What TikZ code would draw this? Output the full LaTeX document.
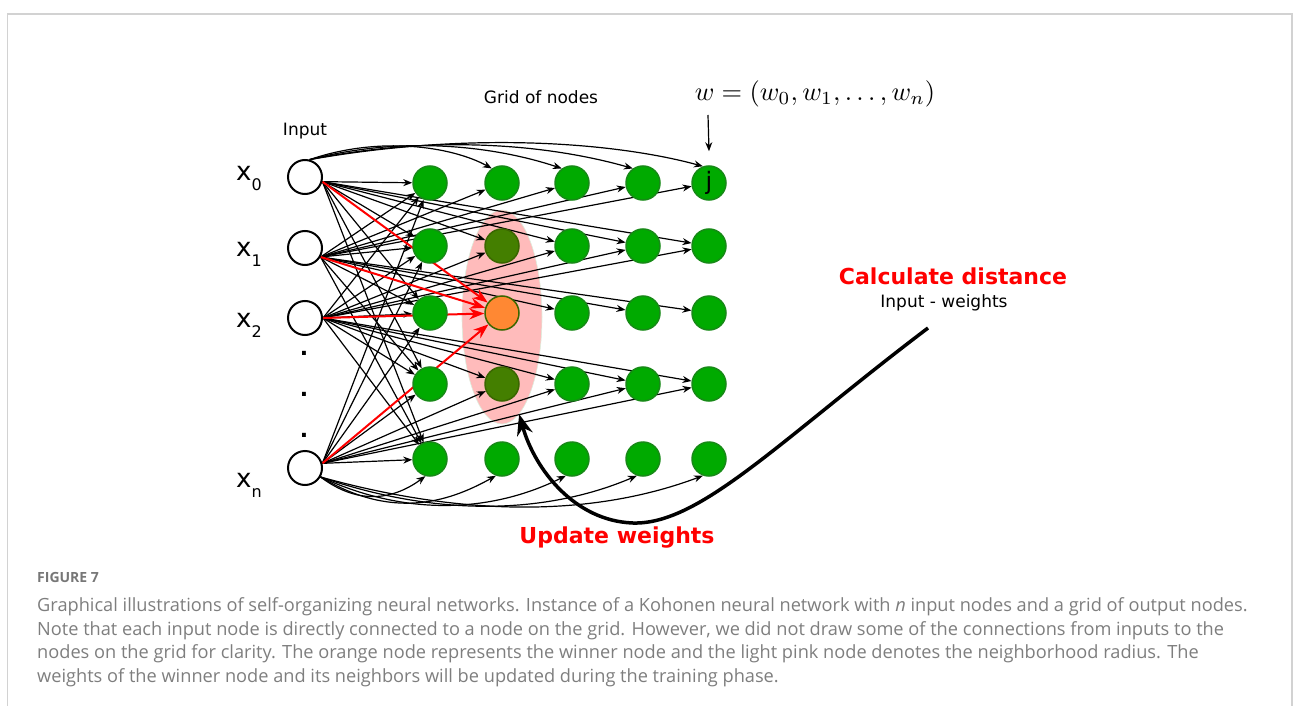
\documentclass[tikz,border=0pt]{standalone}
\usepackage[no-math]{fontspec}
\setmainfont{DejaVu Sans}
\newfontfamily\capfont{Open Sans}
\usetikzlibrary{arrows.meta,shapes.geometric}
\pgfdeclarelayer{bg}
\pgfdeclarelayer{edges}
\pgfsetlayers{bg,edges,main}
\definecolor{gfill}{HTML}{00AA00}
\definecolor{gdraw}{HTML}{178A17}
\definecolor{dfill}{HTML}{447F00}
\definecolor{ddraw}{HTML}{3A6600}
\definecolor{ofill}{HTML}{FF8833}
\definecolor{pinkfill}{HTML}{FFBBBB}
\definecolor{pinkdraw}{HTML}{DDEEDD}
\definecolor{capgray}{HTML}{7E7E7E}
\definecolor{figgray}{HTML}{777777}
\definecolor{framegray}{HTML}{D2D2D2}
\definecolor{hot}{HTML}{FF0000}
\newcommand{\xsub}[1]{x\raisebox{-10pt}{\fontsize{16}{16}\selectfont #1}}
\begin{document}
\begin{tikzpicture}[x=1pt,y=-1pt,
  inp/.style={circle,draw=black,fill=white,line width=2pt,minimum size=34pt,inner sep=0pt},
  grn/.style={circle,draw=gdraw,fill=gfill,line width=1.5pt,minimum size=34pt,inner sep=0pt},
  nbr/.style={draw=ddraw,fill=dfill},
  win/.style={draw=ddraw,fill=ofill},
  sty-1-1/.style={nbr},
  sty-1-3/.style={nbr},
  sty-1-2/.style={win},
  arr/.style={line width=1.2pt,-{Stealth[length=9pt,width=7pt]}},
  redarr/.style={hot,line width=2pt,-{Stealth[length=15pt,width=11pt]}},
  bigarr/.style={line width=3.5pt,-{Stealth[length=21pt,width=16pt]}},
  lbl/.style={font=\fontsize{17}{17}\selectfont,inner sep=0pt},
  red lbl/.style={font=\fontsize{22}{22}\selectfont\bfseries,text=hot,inner sep=0pt},
  xlbl/.style={font=\fontsize{26}{26}\selectfont,inner sep=0pt,anchor=base west},
  caption/.style={font=\capfont\fontsize{18.2}{18.2}\selectfont,text=capgray,inner sep=0pt,anchor=base west}
]
\useasboundingbox (0,0) rectangle (1293,706);
\draw[framegray,line width=1.5pt] (7.5,720) -- (7.5,14) -- (1292,14) -- (1292,720);

% neighbourhood
\begin{pgfonlayer}{bg}
\node[ellipse,fill=pinkfill,draw=pinkdraw,line width=0.6pt,minimum width=80pt,minimum height=214pt,inner sep=0pt] (hood) at (502,317) {};
\end{pgfonlayer}

% input nodes
\node[inp] (I0) at (305,177) {};
\node[inp] (I1) at (305,248) {};
\node[inp] (I2) at (305,318) {};
\node[inp] (In) at (305,468) {};

% grid
\foreach \c/\x in {0/430,1/502,2/572,3/643,4/709}
  \foreach \r/\y in {0/183,1/246,2/313,3/384,4/459}
    \node[grn,sty-\c-\r/.try] (g-\c-\r) at (\x,\y) {};
\node[font=\fontsize{24}{24}\selectfont,inner sep=0pt] (jlab) at (g-4-0) {j};

% labels
\node[xlbl] (lx0) at (236,180) {\xsub{0}};
\node[xlbl] (lx1) at (236,256) {\xsub{1}};
\node[xlbl] (lx2) at (236,327) {\xsub{2}};
\node[xlbl] (lxn) at (236,487) {\xsub{n}};
\node[font=\fontsize{22}{22}\selectfont\bfseries,inner sep=0pt] (d1) at (304,353) {.};
\node[font=\fontsize{22}{22}\selectfont\bfseries,inner sep=0pt] (d2) at (304,394) {.};
\node[font=\fontsize{22}{22}\selectfont\bfseries,inner sep=0pt] (d3) at (304,435) {.};
\node[lbl] (tin) at (305,131) {Input};
\node[lbl] (tgrid) at (541,97) {Grid of nodes};
\node[inner sep=0pt] (wform) at (815,94) {\scalebox{2.64}{$w=(w_0,w_1,\dots,w_n)$}};
\coordinate (wa) at (708,115);
\draw[arr] (wa) -- ([yshift=14pt]g-4-0.north);
\node[red lbl] (tcalc) at (953,276) {Calculate distance};
\node[lbl] (tiw) at (944,303) {Input - weights};
\node[red lbl] (tupd) at (617,538) {Update weights};

% connections
\begin{pgfonlayer}{edges}
\foreach \r in {0,...,4} {
  \draw[arr] (I0.-15) -- (g-0-\r);
  \draw[arr] (I1.-30) -- (g-0-\r);
  \draw[arr] (I2.0) -- (g-0-\r);
  \draw[arr] (In.15) -- (g-0-\r);
}
\foreach \c in {1,...,4} {
  \draw[arr] (I0.-15) -- (g-\c-1);
  \draw[arr] (I1.-30) -- (g-\c-0);
  \draw[arr] (I2.0) -- (g-\c-1);
  \draw[arr] (I2.0) -- (g-\c-3);
  \draw[arr] (In.15) -- (g-\c-3);
}
\foreach \c in {2,3,4} {
  \draw[arr] (I1.-30) -- (g-\c-2);
}
% curves over the top
\draw[arr] (I0.75) .. controls +(70,-24) and +(-40,-22) .. (g-1-0.125);
\draw[arr] (I0.75) .. controls +(100,-26) and +(-60,-20) .. (g-2-0.125);
\draw[arr] (I0.75) .. controls +(140,-28) and +(-70,-20) .. (g-3-0.125);
\draw[arr] (I0.75) .. controls +(170,-30) and +(-80,-22) .. (g-4-0.110);
% curves underneath
\draw[arr] (In.-30) .. controls +(40,30) and +(-30,22) .. (g-0-4.-105);
\draw[arr] (In.-30) .. controls +(70,42) and +(-50,28) .. (g-1-4.-110);
\draw[arr] (In.-30) .. controls +(100,46) and +(-60,30) .. (g-2-4.-110);
\draw[arr] (In.-30) .. controls +(140,48) and +(-70,30) .. (g-3-4.-110);
\draw[arr] (In.-30) .. controls +(180,50) and +(-80,30) .. (g-4-4.-110);
% winner
\draw[redarr] (I0.-15) -- (g-1-2);
\draw[redarr] (I1.-30) -- (g-1-2);
\draw[redarr] (I2.0) -- (g-1-2);
\draw[redarr] (In.15) -- (g-1-2);
\end{pgfonlayer}

% update loop
\coordinate (cstart) at (928,328);
\draw[bigarr] (cstart) .. controls (780,440) and (700,525) .. (633,523)
   .. controls (575,521) and (535,470) .. (hood.-80);

% caption
\node[font=\capfont\fontsize{14}{14}\selectfont\bfseries,text=figgray,inner sep=0pt,anchor=base west] (fig) at (37,582) {FIGURE 7};
\node[caption] (c1) at (37,611.5) {Graphical illustrations of self-organizing neural networks. Instance of a Kohonen neural network with \textit{n} input nodes and a grid of output nodes.};
\node[caption] (c2) at (37,635) {Note that each input node is directly connected to a node on the grid. However, we did not draw some of the connections from inputs to the};
\node[caption] (c3) at (37,658.5) {nodes on the grid for clarity. The orange node represents the winner node and the light pink node denotes the neighborhood radius. The};
\node[caption] (c4) at (37,682) {weights of the winner node and its neighbors will be updated during the training phase.};
\end{tikzpicture}
\end{document}
